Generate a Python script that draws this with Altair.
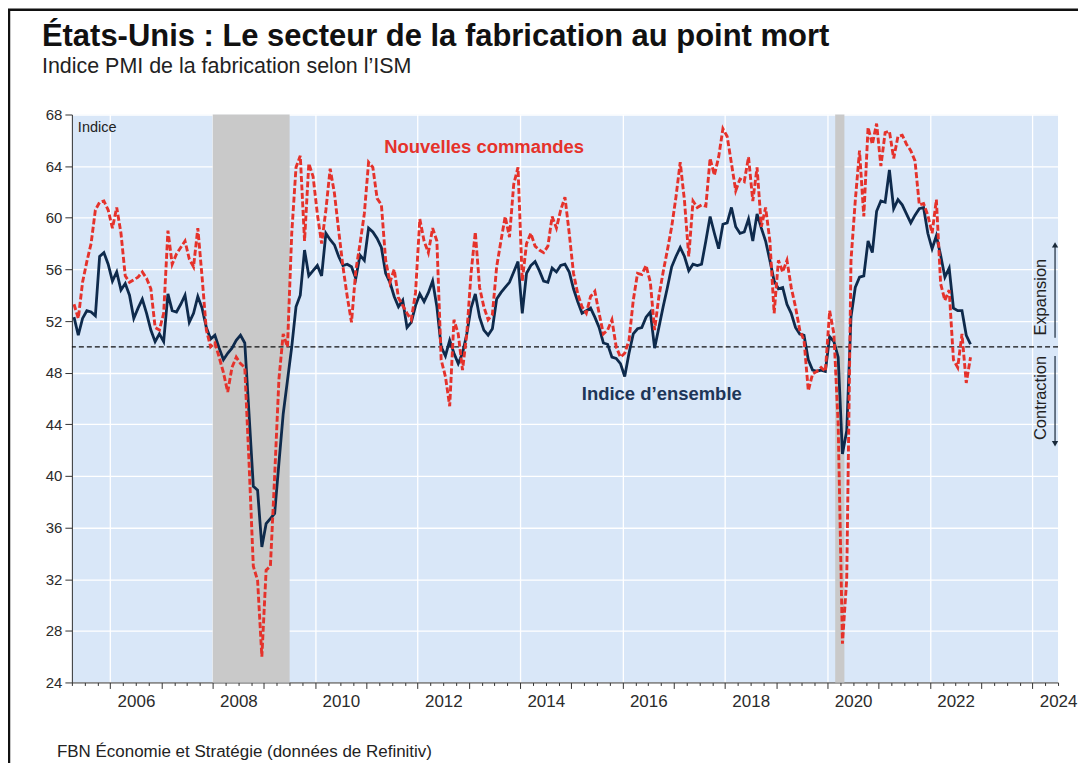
import altair as alt
import pandas as pd

# ---------------- data (monthly, Apr 2005 -> Oct 2022) ----------------
first_month = "2005-04"

ism_pmi = [
    52.3, 50.9, 52.2, 52.8, 52.7, 52.4, 57.0, 57.3, 56.4,                          # 2005 Apr-Dec
    55.1, 55.8, 54.4, 54.9, 54.0, 52.2, 53.0, 53.7, 52.6, 51.3, 50.4, 51.0,        # 2006
    50.4, 54.1, 52.8, 52.7, 53.3, 54.0, 51.9, 52.6, 53.9, 53.0, 51.5, 50.6,        # 2007
    50.9, 49.9, 49.0, 49.5, 49.9, 50.5, 50.9, 50.3, 44.8, 39.2, 38.9, 34.5,        # 2008
    36.3, 36.7, 37.1, 41.0, 44.8, 47.4, 50.0, 53.1, 54.0, 57.5, 55.5, 55.9,        # 2009
    56.3, 55.5, 58.8, 58.3, 57.9, 57.0, 56.3, 56.4, 56.2, 55.3, 57.1, 56.7,        # 2010
    59.2, 58.9, 58.4, 57.7, 55.7, 55.0, 53.9, 53.1, 53.6, 51.5, 51.9, 53.2,        # 2011
    54.1, 53.5, 54.2, 55.1, 53.1, 50.0, 49.3, 50.5, 49.5, 48.7, 49.5, 51.0,        # 2012
    53.0, 54.1, 52.3, 51.3, 50.9, 51.4, 53.7, 54.2, 54.6, 55.0, 55.8, 56.6,        # 2013
    52.6, 55.7, 56.3, 56.6, 55.9, 55.1, 55.0, 56.1, 55.8, 56.3, 56.4, 55.8,        # 2014
    54.5, 53.5, 52.6, 52.8, 53.0, 52.3, 51.5, 50.3, 50.2, 49.2, 49.1, 48.7,        # 2015
    47.7, 49.5, 51.0, 51.4, 51.5, 52.3, 52.7, 49.9, 51.5, 53.1, 54.6, 56.2,        # 2016
    57.0, 57.7, 57.0, 55.9, 56.4, 56.3, 56.4, 58.2, 60.1, 58.8, 57.6, 59.5,        # 2017
    59.6, 60.8, 59.3, 58.8, 58.9, 59.9, 58.2, 60.3, 59.2, 58.2, 56.7, 55.1,        # 2018
    54.5, 54.6, 53.3, 52.6, 51.5, 51.0, 50.9, 49.0, 48.2, 48.1, 48.2, 48.1,        # 2019
    50.8, 50.4, 49.2, 41.7, 43.5, 52.3, 54.6, 55.4, 55.5, 58.2, 57.3, 60.5,        # 2020
    61.3, 61.2, 63.7, 60.7, 61.4, 61.0, 60.3, 59.6, 60.2, 60.7, 60.8, 58.8,        # 2021
    57.6, 58.6, 57.1, 55.4, 56.1, 53.0, 52.8, 52.8, 50.9, 50.2,                    # 2022 Jan-Oct
]

new_orders = [
    53.3, 52.2, 55.0, 56.6, 58.0, 60.6, 61.2, 61.3, 60.6,                          # 2005 Apr-Dec
    59.2, 60.8, 58.8, 55.5, 55.0, 55.2, 55.4, 55.8, 55.3, 54.5, 51.5, 51.3,        # 2006
    52.6, 59.0, 56.4, 57.2, 57.7, 58.2, 56.8, 56.2, 59.2, 55.4, 51.3, 50.0,        # 2007
    50.3, 49.2, 48.0, 46.5, 48.4, 49.2, 48.7, 48.4, 41.0, 33.0, 31.9, 26.0,        # 2008
    32.7, 33.0, 40.0, 47.5, 51.0, 50.0, 58.8, 63.9, 64.8, 58.2, 64.2, 63.2,        # 2009
    60.3, 58.0, 60.6, 63.8, 61.9, 59.0, 56.2, 53.9, 51.9, 55.9, 58.0, 60.3,        # 2010
    64.3, 63.9, 61.5, 61.0, 56.7, 55.0, 56.0, 53.8, 53.2, 52.6, 52.1, 54.2,        # 2011
    59.9, 58.2, 57.3, 59.2, 58.2, 49.0, 47.7, 45.4, 52.1, 51.0, 48.2, 51.0,        # 2012
    55.7, 58.9, 54.6, 53.1, 52.1, 52.5, 56.2, 58.2, 60.1, 58.5, 62.6, 63.9,        # 2013
    55.1, 58.0, 58.8, 57.8, 57.5, 57.3, 57.8, 60.1, 59.2, 60.6, 61.6, 58.8,        # 2014
    55.7, 54.1, 53.1, 52.6, 53.9, 54.3, 52.6, 51.0, 51.3, 52.1, 50.0, 49.2,        # 2015
    49.5, 50.5, 53.6, 55.7, 55.6, 56.3, 55.0, 51.3, 53.9, 55.8, 57.5, 59.3,        # 2016
    61.6, 64.3, 61.3, 57.0, 61.3, 60.8, 61.0, 60.9, 64.6, 63.3, 64.7, 66.9,        # 2017
    66.3, 64.2, 62.1, 63.0, 62.8, 64.7, 61.3, 63.9, 59.3, 60.8, 58.2, 52.6,        # 2018
    56.7, 55.8, 56.7, 54.6, 53.1, 51.3, 50.5, 46.6, 47.9, 48.1, 48.4, 48.1,        # 2019
    52.8, 51.0, 44.0, 27.0, 32.0, 56.7, 61.3, 65.2, 60.1, 67.0, 65.7, 67.3,        # 2020
    64.0, 66.6, 66.7, 64.6, 66.3, 66.4, 65.7, 65.2, 64.4, 61.0, 61.1, 60.2,        # 2021
    58.8, 61.4, 54.9, 53.6, 54.4, 49.0, 48.4, 51.0, 47.2, 49.2,                    # 2022 Jan-Oct
]

# recessions (fractional years, as shaded on the chart)
rec_start = [2008.0, 2020.15]
rec_end = [2009.5, 2020.33]

y_ticks = [24, 28, 32, 36, 40, 44, 48, 52, 56, 60, 64, 68]

# ---------------- tables ----------------
periods = pd.period_range(first_month, periods=len(ism_pmi), freq="M")
t = [p.year + (p.month - 0.5) / 12 for p in periods]
df = pd.DataFrame({"t": t, "pmi": ism_pmi, "orders": new_orders[: len(ism_pmi)]})
rec = pd.DataFrame({"start": rec_start, "end": rec_end})

X_DOMAIN = [2005.25, 2024.5]
x_ticks = [X_DOMAIN[0] + 0.25 * k for k in range(int((X_DOMAIN[1] - X_DOMAIN[0]) / 0.25) + 1)]

FONT = "Liberation Sans"
NAVY = "#0e2a4c"
RED = "#e5322b"
W, H = 988, 569

xscale = alt.Scale(domain=X_DOMAIN, nice=False, zero=False)
yscale = alt.Scale(domain=[24, 68], nice=False, zero=False)

x_axis = alt.Axis(
    values=x_ticks,
    title=None,
    grid=True,
    gridColor="white",
    gridWidth=1.3,
    gridOpacity={"condition": {"test": "datum.value % 2 == 0", "value": 1}, "value": 0},
    tickSize={"condition": {"test": "datum.value % 1 == 0", "value": 6}, "value": 3},
    tickColor="#333333",
    domainColor="#333333",
    labelExpr="datum.value % 2 == 0 ? format(datum.value, 'd') : ''",
    labelOffset=25.7,
    labelOverlap=False,
    labelFlush=False,
    labelBound=False,
    labelPadding=5,
    labelFontSize=17,
    labelFont=FONT,
    labelColor="#2b2b2b",
)

y_axis = alt.Axis(
    values=y_ticks,
    title=None,
    grid=True,
    gridColor="white",
    gridWidth=1.3,
    tickSize=7,
    tickColor="#333333",
    domainColor="#333333",
    labelPadding=3,
    labelFontSize=15,
    labelFont=FONT,
    labelColor="#2b2b2b",
)

base = alt.Chart(df)

rects = alt.Chart(rec).mark_rect(color="#c9c9c9", opacity=1).encode(
    x=alt.X("start:Q", scale=xscale, axis=x_axis),
    x2="end:Q",
)

fifty = alt.Chart(pd.DataFrame({"y": [50]})).mark_rule(
    color="#111111", strokeDash=[5, 3], strokeWidth=1.3
).encode(y=alt.Y("y:Q", scale=yscale, axis=y_axis))

blue = base.mark_line(color=NAVY, strokeWidth=2.8).encode(
    x=alt.X("t:Q", scale=xscale, axis=x_axis),
    y=alt.Y("pmi:Q", scale=yscale, axis=y_axis),
)

red = base.mark_line(color=RED, strokeWidth=2.9, strokeDash=[6, 2.5]).encode(
    x=alt.X("t:Q", scale=xscale, axis=x_axis),
    y=alt.Y("orders:Q", scale=yscale, axis=y_axis),
)


def label(text, x, y, size, color="#111111", weight="normal", align="left", angle=0, baseline="alphabetic"):
    return alt.Chart(pd.DataFrame({"txt": [text]})).mark_text(
        font=FONT, fontSize=size, color=color, fontWeight=weight,
        align=align, baseline=baseline, angle=angle,
    ).encode(x=alt.value(x), y=alt.value(y), text="txt:N")


title = label("États-Unis : Le secteur de la fabrication au point mort", -30, -69, 31, "#111111", "bold")
subtitle = label("Indice PMI de la fabrication selon l’ISM", -30, -42, 21.5, "#222222")
footer = label("FBN Économie et Stratégie (données de Refinitiv)", -15, 644, 17, "#222222")
indice = label("Indice", 6, 18, 14.5, "#222222")
lab_orders = label("Nouvelles commandes", 413, 39, 18.5, RED, "bold", "center")
lab_pmi = label("Indice d’ensemble", 591, 286, 18.5, "#1d3557", "bold", "center")
lab_exp = label("Expansion", 971, 183, 16.5, "#222222", "normal", "center", 270, "middle")
lab_con = label("Contraction", 971, 284, 16.5, "#222222", "normal", "center", 270, "middle")

arr = pd.DataFrame({"y1": [50.7, 49.3], "y2": [57.8, 42.6]})
arrow_lines = alt.Chart(arr).mark_rule(color="#1a2a3a", strokeWidth=1.2).encode(
    x=alt.value(985), y=alt.Y("y1:Q", scale=yscale), y2="y2:Q"
)
heads = alt.Chart(pd.DataFrame({"y": [57.9]})).mark_point(
    shape="triangle-up", filled=True, color="#1a2a3a", size=40, opacity=1
).encode(x=alt.value(985), y=alt.Y("y:Q", scale=yscale))
heads2 = alt.Chart(pd.DataFrame({"y": [42.5]})).mark_point(
    shape="triangle-down", filled=True, color="#1a2a3a", size=40, opacity=1
).encode(x=alt.value(985), y=alt.Y("y:Q", scale=yscale))

frame = alt.Chart(pd.DataFrame({"a": [0]})).mark_rect(
    fill=None, stroke="#111111", strokeWidth=2.5
).encode(x=alt.value(-63), x2=alt.value(1200), y=alt.value(-105), y2=alt.value(900))

chart = alt.layer(
    rects, fifty, blue, red, indice, lab_orders, lab_pmi, lab_exp, lab_con,
    arrow_lines, heads, heads2, title, subtitle, footer, frame,
).properties(
    width=W,
    height=H,
    autosize=alt.AutoSizeParams(type="none"),
    padding={"left": 64, "top": 106, "right": 20, "bottom": 80},
    background="white",
).configure_view(
    fill="#d9e7f8", stroke=None
)

chart.save("out.html", embed_options={"renderer": "svg", "actions": False})
